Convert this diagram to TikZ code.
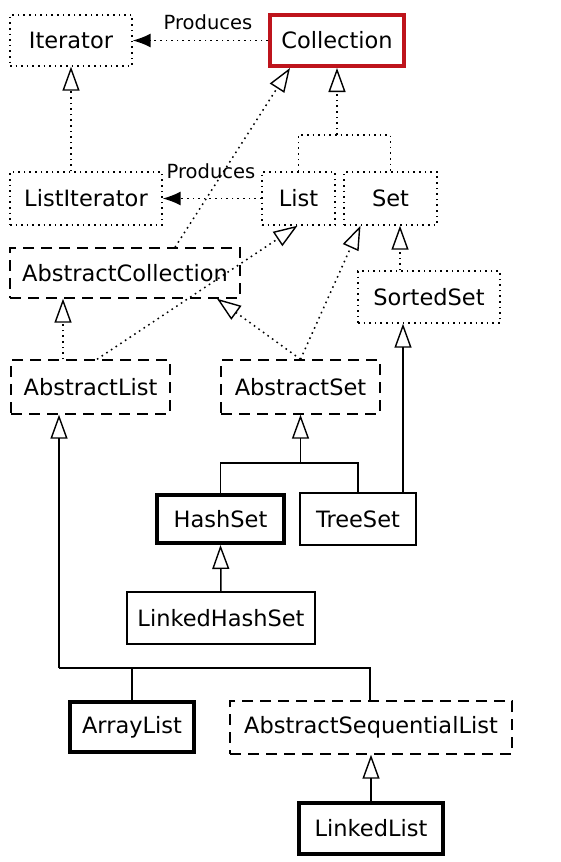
\documentclass[tikz,border=0pt]{standalone}
\usepackage{fontspec}
\setmainfont{DejaVu Sans}
\usetikzlibrary{arrows.meta}
\definecolor{collred}{RGB}{190,20,28}
\begin{document}
\begin{tikzpicture}[x=1pt, y=-1pt,
    box/.style={draw, line width=1.4pt, inner sep=0pt, font=\fontsize{22.5}{24}\selectfont},
    dotbox/.style={box, dash pattern=on 1.6pt off 4pt},
    dashbox/.style={box, dash pattern=on 11pt off 7pt},
    thickbox/.style={box, line width=4pt},
    dotline/.style={line width=1.5pt, dash pattern=on 1.6pt off 4pt},
    plain/.style={line width=1.5pt},
    inh/.style={-{Triangle[open, length=24pt, width=17pt, line width=1.4pt]}},
    prod/.style={dotline, -{Latex[length=18pt, width=14pt]}},
    lbl/.style={font=\fontsize{19.5}{21}\selectfont}]
\fill[white] (0,0) rectangle (560,862);
\useasboundingbox (0,0) rectangle (560,862);

% interfaces
\node[dotbox, minimum width=122pt, minimum height=51pt] (iter) at (71,40.5) {Iterator};
\node[thickbox, draw=collred, minimum width=134pt, minimum height=51pt] (coll) at (337,40.5) {Collection};
\node[dotbox, minimum width=152pt, minimum height=53pt] (listit) at (86,198.5) {ListIterator};
\node[dotbox, minimum width=73pt, minimum height=53pt] (list) at (298.5,198.5) {List};
\node[dotbox, minimum width=93pt, minimum height=53pt] (set) at (390.5,198.5) {Set};
\node[dotbox, minimum width=142pt, minimum height=52pt] (sorted) at (429,297) {SortedSet};

% abstract classes
\node[dashbox, minimum width=230pt, minimum height=50pt] (abscoll) at (125,273) {AbstractCollection};
\node[dashbox, minimum width=159pt, minimum height=54pt] (abslist) at (90.5,387) {AbstractList};
\node[dashbox, minimum width=159pt, minimum height=54pt] (absset) at (300.5,387) {AbstractSet};
\node[dashbox, minimum width=282pt, minimum height=53pt] (asl) at (371,727.5) {AbstractSequentialList};

% classes
\node[thickbox, minimum width=127pt, minimum height=48pt] (hash) at (220.5,519) {HashSet};
\node[box, minimum width=116pt, minimum height=52pt] (tree) at (358,519) {TreeSet};
\node[box, minimum width=188pt, minimum height=52pt] (lhs) at (221,618) {LinkedHashSet};
\node[thickbox, minimum width=124pt, minimum height=50pt] (array) at (132,727) {ArrayList};
\node[thickbox, minimum width=144pt, minimum height=51pt] (linked) at (371,828.5) {LinkedList};

% Produces
\draw[prod] (coll.west) -- (iter.east);
\node[lbl] (p1) at (208,22) {Produces};
\draw[prod] (list.west) -- (listit.east);
\node[lbl] (p2) at (211,171) {Produces};

% interface inheritance
\draw[dotline, inh] (listit.north -| iter.south) -- (iter.south);
\coordinate (cs) at (337,135);
\draw[dotline, inh] (cs) -- (coll.south);
\draw[dotline] (list.north) |- (cs) -| (set.north);
\draw[dotline, inh] ([xshift=-29pt]sorted.north) -- ([xshift=9.5pt]set.south);

% implementations
\draw[dotline, inh] ([xshift=50pt]abscoll.north) -- ([xshift=-47pt]coll.south);
\draw[dotline, inh] ([xshift=-27.5pt]abslist.north) -- ([xshift=-62pt]abscoll.south);
\draw[dotline, inh] ([xshift=6.5pt]abslist.north) -- ([xshift=-1pt]list.south);
\draw[dotline, inh] (absset.north) -- ([xshift=-30pt]set.south);
\draw[dotline, inh] (absset.north) -- ([xshift=92pt]abscoll.south);

% subclasses
\coordinate (hs) at (300.5,463);
\draw[plain, inh] (hs) -- (absset.south);
\draw[plain] (hash.north) |- (hs) -| (tree.north);
\draw[plain, inh] ([xshift=45pt]tree.north) -- ([xshift=-26pt]sorted.south);
\draw[plain, inh] (lhs.north) -- (hash.south);
\coordinate (al) at (59,668);
\draw[plain, inh] (al) -- ([xshift=-31.5pt]abslist.south);
\draw[plain] (al) -| ([xshift=-1pt]asl.north);
\draw[plain] (array.north) -- (array.north |- al);
\draw[plain, inh] (linked.north) -- (asl.south);
\end{tikzpicture}
\end{document}
